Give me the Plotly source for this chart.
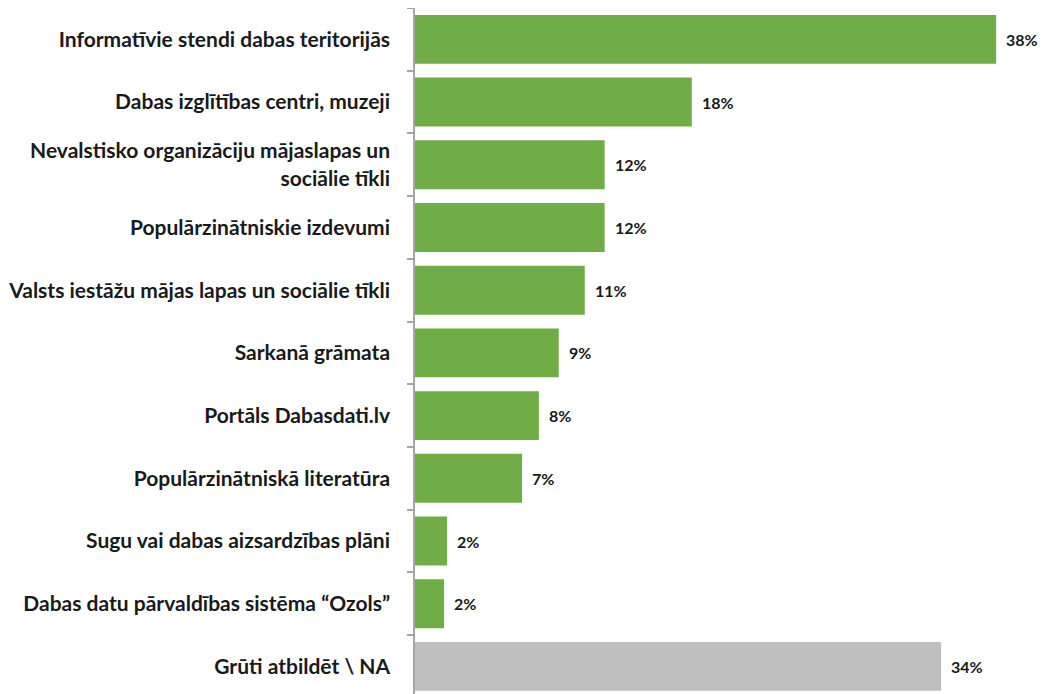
import plotly.graph_objects as go

categories = [
    "Informatīvie stendi dabas teritorijās",
    "Dabas izglītības centri, muzeji",
    "Nevalstisko organizāciju mājaslapas un<br>sociālie tīkli",
    "Populārzinātniskie izdevumi",
    "Valsts iestāžu mājas lapas un sociālie tīkli",
    "Sarkanā grāmata",
    "Portāls Dabasdati.lv",
    "Populārzinātniskā literatūra",
    "Sugu vai dabas aizsardzības plāni",
    "Dabas datu pārvaldības sistēma “Ozols”",
    "Grūti atbildēt \\ NA",
]
values = [38.0, 18.1, 12.4, 12.4, 11.1, 9.4, 8.1, 7.0, 2.1, 1.9, 34.4]
labels = ["38%", "18%", "12%", "12%", "11%", "9%", "8%", "7%", "2%", "2%", "34%"]

GREEN = "#70AD47"
GRAY = "#BFBFBF"
colors = [GREEN] * (len(categories) - 1) + [GRAY]

FONT = "Lato"

fig = go.Figure(
    go.Bar(
        x=values,
        y=categories,
        orientation="h",
        marker=dict(color=colors, line=dict(width=0)),
        hoverinfo="skip",
    )
)

for v, c, t in zip(values, categories, labels):
    fig.add_annotation(
        x=v, y=c, text=t, showarrow=False,
        xanchor="left", xshift=8,
        font=dict(family=FONT, size=16, color="#1a1a1a", weight="bold"),
    )

# the page body has an 8px margin, so the figure is 16px smaller than the window
fig.update_layout(
    width=1031,
    height=686,
    margin=dict(l=405, r=0, t=0, b=0),
    plot_bgcolor="white",
    paper_bgcolor="white",
    bargap=0.22,
    showlegend=False,
    font=dict(family=FONT, size=21, color="#1a1a1a", weight="bold"),
)
fig.update_xaxes(visible=False, range=[0, 40.8])
fig.update_yaxes(
    type="category",
    range=[10.44, -0.5],
    showline=True,
    linecolor="#A6A6A6",
    linewidth=1.5,
    ticks="outside",
    tickson="boundaries",
    ticklen=6,
    tickcolor="#A6A6A6",
    tickwidth=1.5,
    ticklabelstandoff=19,
    showgrid=False,
    tickfont=dict(family=FONT, size=21, color="#1a1a1a", weight="bold"),
)

fig.write_html("out.html")
